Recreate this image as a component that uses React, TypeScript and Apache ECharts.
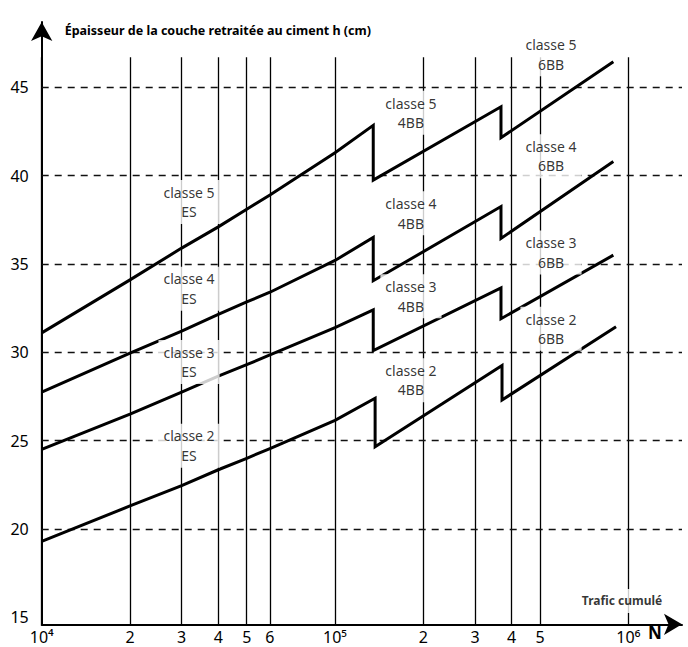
import React, { useEffect, useRef } from 'react';
import * as echarts from 'echarts';

// Axis ticks
const xTickValues = [1e4, 2e4, 3e4, 4e4, 5e4, 6e4, 1e5, 2e5, 3e5, 4e5, 5e5, 1e6];
const xTickLabels = ['10⁴', '2', '3', '4', '5', '6', '10⁵', '2', '3', '4', '5', '10⁶'];
const yTickValues = [15, 20, 25, 30, 35, 40, 45];
const yDashedValues = [20, 25, 30, 35, 40, 45];

// Thickness curves: [cumulative traffic N, thickness h (cm)]
const classe5 = [
  [1e4, 31.1], [2e4, 34.1], [3e4, 35.9], [4e4, 37.1], [5e4, 38.1], [6e4, 38.9], [1e5, 41.3], [1.35e5, 42.85],
  [1.35e5, 39.75], [3.68e5, 43.9],
  [3.68e5, 42.15], [8.89e5, 46.45],
];
const classe4 = [
  [1e4, 27.75], [2e4, 29.95], [3e4, 31.2], [4e4, 32.15], [5e4, 32.85], [6e4, 33.4], [1e5, 35.2], [1.35e5, 36.5],
  [1.35e5, 34.05], [3.68e5, 38.25],
  [3.68e5, 36.45], [8.89e5, 40.8],
];
const classe3 = [
  [1e4, 24.5], [2e4, 26.5], [3e4, 27.75], [4e4, 28.65], [5e4, 29.3], [6e4, 29.85], [1e5, 31.4], [1.35e5, 32.4],
  [1.35e5, 30.1], [3.68e5, 33.65],
  [3.68e5, 31.9], [8.89e5, 35.5],
];
const classe2 = [
  [1e4, 19.3], [2e4, 21.3], [3e4, 22.45], [4e4, 23.35], [5e4, 24.0], [6e4, 24.55], [1e5, 26.15], [1.37e5, 27.4],
  [1.37e5, 24.65], [3.71e5, 29.25],
  [3.71e5, 27.3], [9.08e5, 31.45],
];

// Curve annotations
const annotTexts = [
  'classe 5\nES', 'classe 4\nES', 'classe 3\nES', 'classe 2\nES',
  'classe 5\n4BB', 'classe 4\n4BB', 'classe 3\n4BB', 'classe 2\n4BB',
  'classe 5\n6BB', 'classe 4\n6BB', 'classe 3\n6BB', 'classe 2\n6BB',
];
const annotX = [3.18e4, 3.18e4, 3.18e4, 3.18e4, 1.815e5, 1.815e5, 1.815e5, 1.815e5, 5.45e5, 5.45e5, 5.45e5, 5.45e5];
const annotY = [38.51, 33.6, 29.45, 24.71, 43.56, 37.87, 33.17, 28.42, 46.87, 41.1, 35.65, 31.33];

const xAxisTitle = 'Trafic cumulé';
const xAxisTitlePos = [9.52e5, 15.92];
const yAxisTitle = 'Épaisseur de la couche retraitée au ciment h (cm)';

const FONT = '"Noto Sans", "Open Sans", sans-serif';
const X_MIN = 1e4;
const X_MAX = 1.524e6;
const Y_MIN = 14.6;
const Y_MAX = 48.7;
const V_TOP = 46.7;

export default function App() {
  const ref = useRef<HTMLDivElement>(null);

  useEffect(() => {
    if (!ref.current) return;
    const chart = echarts.init(ref.current, undefined, { renderer: 'svg' });

    const verticalLines = xTickValues.map((v, i) => [
      {
        coord: [v, Y_MIN],
        lineStyle: { color: '#000', width: 1.3, type: 'solid' },
        label: {
          show: true,
          position: 'start',
          distance: 5,
          formatter: xTickLabels[i],
          fontSize: 16,
          fontFamily: FONT,
          color: '#000',
        },
      },
      { coord: [v, V_TOP] },
    ]);
    const dashedLines = yDashedValues.map((v) => ({
      yAxis: v,
      lineStyle: { color: '#111', width: 1.3, type: [7, 6] },
      label: { show: false },
    }));

    const lineSeries = (name: string, data: number[][]) => ({
      name,
      type: 'line',
      data,
      symbol: 'none',
      showSymbol: false,
      silent: true,
      z: 6,
      lineStyle: { color: '#000', width: 3, join: 'miter', miterLimit: 4 },
    });

    const annotData: any[] = annotTexts.map((t, i) => ({
      value: [annotX[i], annotY[i]],
      label: { formatter: t },
    }));
    annotData.push({
      value: xAxisTitlePos,
      label: {
        formatter: xAxisTitle,
        fontWeight: 'bold',
        fontSize: 12,
        lineHeight: 16,
        padding: [4, 3, 4, 3],
      },
    });

    const option: any = {
      animation: false,
      backgroundColor: '#fff',
      grid: { left: 41.7, right: 6, top: 22, bottom: 22.7, containLabel: false },
      xAxis: {
        type: 'log',
        logBase: 10,
        min: X_MIN,
        max: X_MAX,
        axisLine: {
          show: true,
          onZero: false,
          lineStyle: { color: '#000', width: 2 },
          symbol: ['none', 'arrow'],
          symbolSize: [16, 18],
        },
        axisTick: { show: false },
        axisLabel: { show: false },
        splitLine: { show: false },
        minorSplitLine: { show: false },
      },
      yAxis: {
        type: 'value',
        min: Y_MIN,
        max: Y_MAX,
        name: yAxisTitle,
        nameLocation: 'end',
        nameGap: -8,
        nameTextStyle: {
          align: 'left',
          verticalAlign: 'middle',
          fontWeight: 'bold',
          fontSize: 12.5,
          fontFamily: FONT,
          color: '#000',
          padding: [0, 0, 0, 23],
        },
        axisLine: {
          show: true,
          onZero: false,
          lineStyle: { color: '#000', width: 2 },
          symbol: ['none', 'arrow'],
          symbolSize: [16, 19],
        },
        axisTick: { show: false },
        axisLabel: {
          customValues: yTickValues,
          fontSize: 16,
          fontFamily: FONT,
          color: '#000',
          margin: 13,
          padding: [0, 0, 10, 0],
        },
        splitLine: { show: false },
      },
      graphic: [
        {
          type: 'text',
          left: 648,
          top: 624,
          z: 20,
          style: { text: 'N', font: 'bold 17px ' + FONT, fill: '#000' },
        },
      ],
      series: [
        {
          name: 'grid',
          type: 'line',
          data: [],
          silent: true,
          markLine: {
            silent: true,
            symbol: 'none',
            animation: false,
            z: 4,
            label: { show: false },
            data: [...verticalLines, ...dashedLines],
          },
        },
        lineSeries('classe 5', classe5),
        lineSeries('classe 4', classe4),
        lineSeries('classe 3', classe3),
        lineSeries('classe 2', classe2),
        {
          name: 'annotations',
          type: 'scatter',
          silent: true,
          z: 10,
          symbolSize: 1,
          itemStyle: { color: 'rgba(0,0,0,0)' },
          data: annotData,
          label: {
            show: true,
            position: 'inside',
            fontSize: 14,
            lineHeight: 19.5,
            fontFamily: FONT,
            color: '#000',
            align: 'center',
            backgroundColor: '#fff',
            padding: [2, 5, 3, 5],
          },
        },
      ],
    };

    chart.setOption(option);
    return () => chart.dispose();
  }, []);

  return (
    <div
      ref={ref}
      style={{ position: 'fixed', left: 0, top: 0, width: 688, height: 647, background: '#fff' }}
    />
  );
}
